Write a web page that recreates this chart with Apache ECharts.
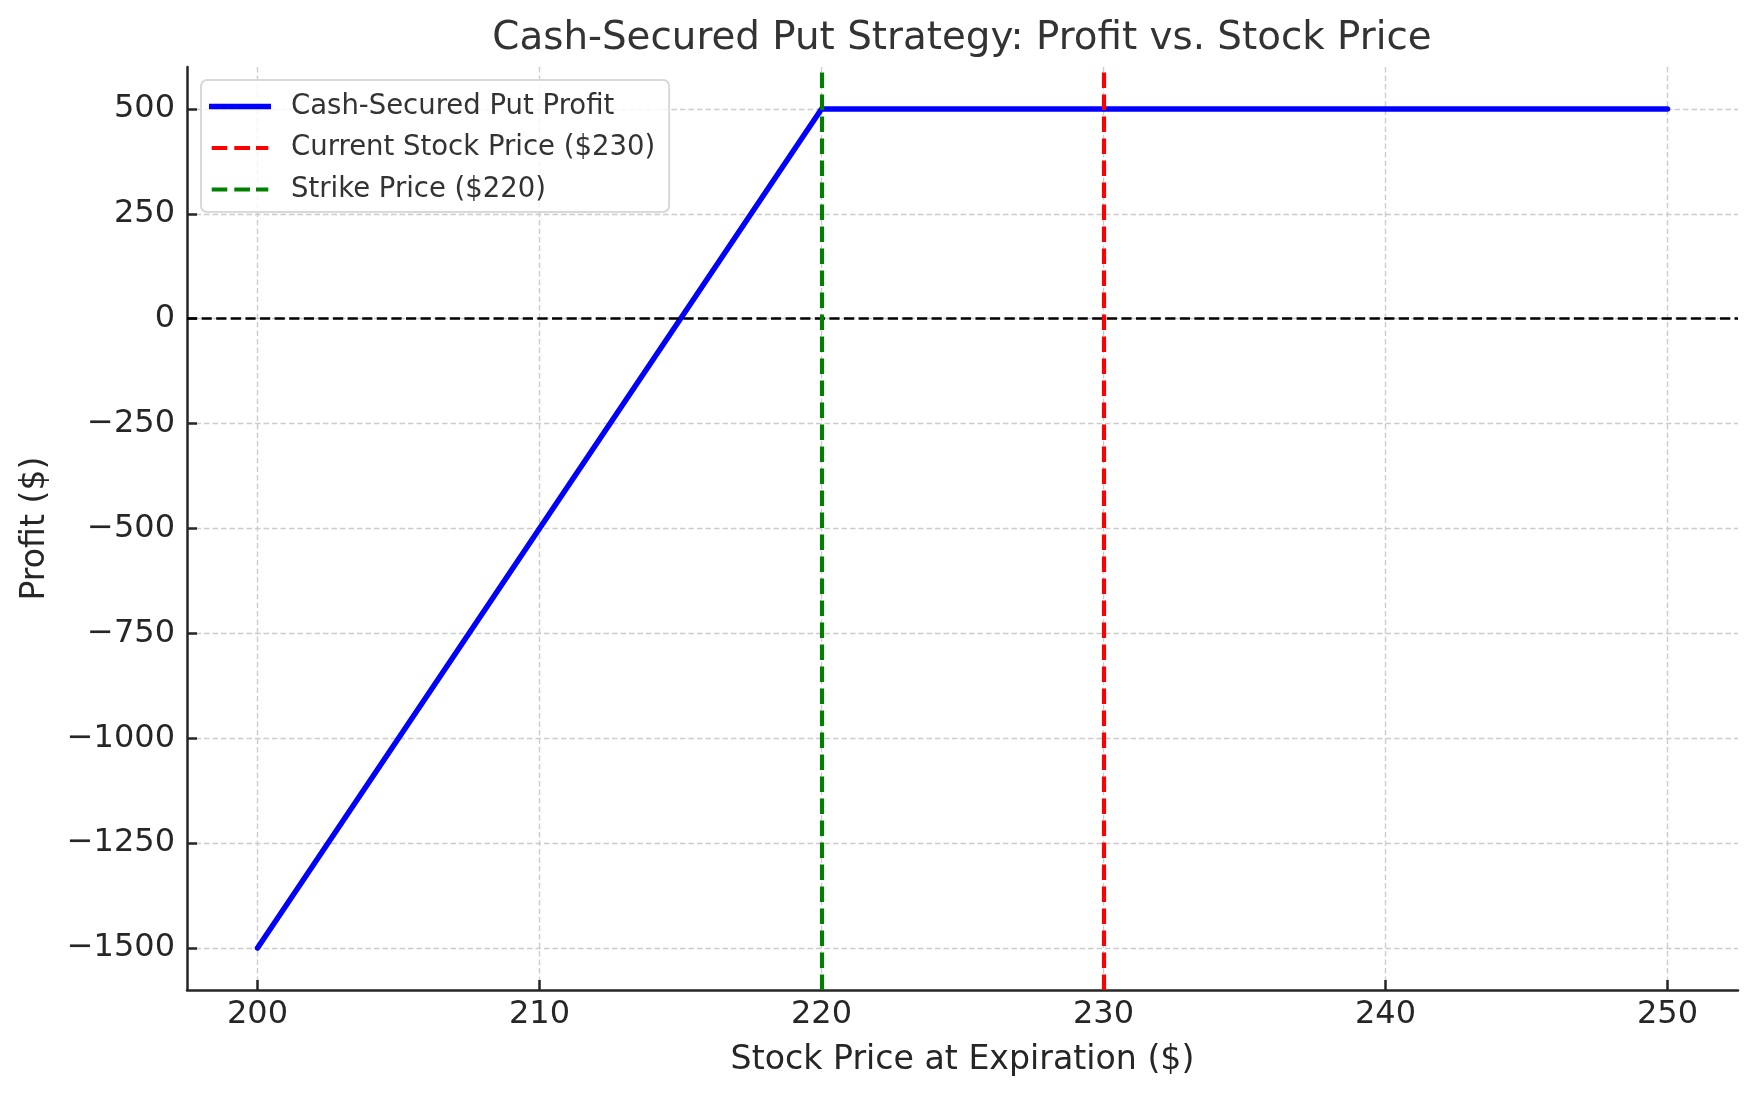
<!DOCTYPE html>
<html>
<head>
<meta charset="utf-8">
<script src="https://cdn.jsdelivr.net/npm/echarts@6/dist/echarts.min.js"></script>
<style>
html,body{margin:0;padding:0;background:#fff;}
#chart{width:1756px;height:1097px;}
</style>
</head>
<body>
<div id="chart"></div>
<script>
// ---- data ----
const stockPrices = [200, 220, 250];
const profitValues = [-1500, 500, 500];
const currentPrice = 230;
const strikePrice = 220;
const zeroLevel = 0;
const xTicks = [200, 210, 220, 230, 240, 250];
const yTicks = [-1500, -1250, -1000, -750, -500, -250, 0, 250, 500];
const xRange = [197.5, 252.5];
const yRange = [-1600, 600];
const seriesNames = ['Cash-Secured Put Profit', 'Current Stock Price ($230)', 'Strike Price ($220)'];
const titleText = 'Cash-Secured Put Strategy: Profit vs. Stock Price';
const xName = 'Stock Price at Expiration ($)';
const yName = 'Profit ($)';

const FONT = 'DejaVu Sans';
const AX = '#262626';

const profitData = stockPrices.map((x, i) => [x, profitValues[i]]);

const solidIcon = 'path://M0,0M62,6M0,0.25H62V5.75H0Z';
const dashIcon = 'path://M0,0M62,6M2.7,1H18.3V5H2.7ZM25.3,1H41V5H25.3ZM47,1H59.3V5H47Z';

const chart = echarts.init(document.getElementById('chart'), null, {renderer: 'canvas'});
const option = {
  backgroundColor: '#ffffff',
  animation: false,
  textStyle: {fontFamily: FONT},
  title: {
    text: titleText,
    left: 962, top: 19, textAlign: 'center',
    padding: 0,
    textStyle: {fontFamily: FONT, fontSize: 38.8, fontWeight: 'normal', color: '#333333'}
  },
  grid: {left: 187, right: 18, top: 67, bottom: 107, containLabel: false},
  legend: {
    orient: 'vertical', left: 201, top: 80,
    padding: [11.5, 14, 7.5, 8],
    itemWidth: 62, itemHeight: 6, itemGap: 11.5,
    backgroundColor: 'rgba(255,255,255,0.8)',
    borderColor: '#d9d9d9', borderWidth: 2, borderRadius: 6,
    textStyle: {fontFamily: FONT, fontSize: 27.5, color: '#333333', lineHeight: 30, padding: [0, 0, 0, 15]},
    data: [
      {name: seriesNames[0], icon: solidIcon, itemStyle: {color: '#0000ff'}},
      {name: seriesNames[1], icon: dashIcon, itemStyle: {color: '#ff0000'}},
      {name: seriesNames[2], icon: dashIcon, itemStyle: {color: '#008000'}}
    ]
  },
  xAxis: {
    type: 'value', min: xRange[0], max: xRange[1],
    name: xName, nameLocation: 'middle', nameGap: 54, nameMoveOverlap: false,
    nameTextStyle: {fontFamily: FONT, fontSize: 33.2, color: AX},
    axisLine: {show: true, onZero: false, lineStyle: {color: AX, width: 2.5}},
    axisTick: {show: true, inside: true, length: 10, customValues: xTicks, lineStyle: {color: AX, width: 2.5}},
    axisLabel: {show: true, margin: 9, customValues: xTicks, fontFamily: FONT, fontSize: 32, color: AX},
    splitLine: {show: true, lineStyle: {color: '#cccccc', width: 1.4, type: [5.5, 3]}}
  },
  yAxis: {
    type: 'value', min: yRange[0], max: yRange[1],
    name: yName, nameLocation: 'middle', nameGap: 135, nameRotate: 90, nameMoveOverlap: false,
    nameTextStyle: {fontFamily: FONT, fontSize: 33.2, color: AX},
    axisLine: {show: true, onZero: false, lineStyle: {color: AX, width: 2.5}},
    axisTick: {show: true, inside: true, length: 10, customValues: yTicks, lineStyle: {color: AX, width: 2.5}},
    axisLabel: {show: true, margin: 12, customValues: yTicks, fontFamily: FONT, fontSize: 32, color: AX,
      formatter: v => String(v).replace('-', '\u2212')},
    splitLine: {show: true, lineStyle: {color: '#cccccc', width: 1.4, type: [5.5, 3]}}
  },
  series: [
    {
      name: 'zero', type: 'line', data: [], z: 3, silent: true,
      markLine: {silent: true, symbol: 'none', label: {show: false},
        lineStyle: {color: '#000000', width: 2.7, type: [10.2, 4.4]},
        data: [{yAxis: zeroLevel}]}
    },
    {
      name: seriesNames[0], type: 'line', data: profitData, z: 4,
      showSymbol: false, symbol: 'none',
      lineStyle: {color: '#0000ff', width: 5.5, cap: 'round', join: 'round'},
      itemStyle: {color: '#0000ff'}
    },
    {
      name: seriesNames[1], type: 'line', data: [], z: 5, itemStyle: {color: '#ff0000'},
      markLine: {silent: true, symbol: 'none', label: {show: false},
        lineStyle: {color: '#ff0000', width: 4.15, type: [15.4, 6.6]},
        data: [{xAxis: currentPrice}]}
    },
    {
      name: seriesNames[2], type: 'line', data: [], z: 6, itemStyle: {color: '#008000'},
      markLine: {silent: true, symbol: 'none', label: {show: false},
        lineStyle: {color: '#008000', width: 4.15, type: [15.4, 6.6]},
        data: [{xAxis: strikePrice}]}
    }
  ]
};
chart.setOption(option);
</script>
</body>
</html>
